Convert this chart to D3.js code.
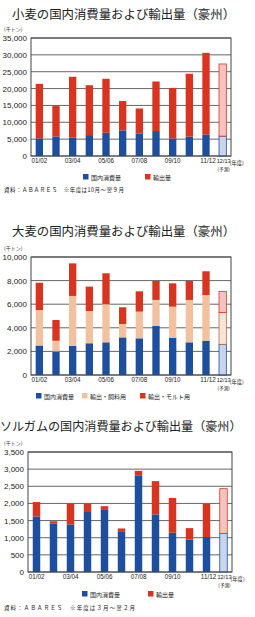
<html>
<head>
<script src="https://d3js.org/d3.v7.min.js"></script>
<style>
body { margin: 0; background: #fff; }
svg { display: block; }
.jp { font-family: "Noto Sans CJK JP", sans-serif; }
.num { font-family: "Liberation Sans Narrow", "Liberation Sans", sans-serif; }
</style>
</head>
<body>
<svg id="chart" width="255" height="617"></svg>
<script>
// years (fiscal)
var years = ["01/02","02/03","03/04","04/05","05/06","06/07","07/08","08/09","09/10","10/11","11/12","12/13"];
var shownYears = ["01/02","03/04","05/06","07/08","09/10","11/12","12/13"];

// wheat (千トン)
var wheatDomestic = [5200, 5800, 5500, 6200, 6900, 7600, 6600, 7400, 5200, 5800, 6400, 5900];
var wheatExport   = [16200, 9100, 18000, 14800, 16000, 8700, 7500, 14700, 15000, 18600, 24200, 21400];

// barley (千トン)
var barleyDomestic = [2500, 2000, 2460, 2690, 2770, 3190, 3110, 4150, 3160, 2770, 2910, 2600];
var barleyFeed     = [3000, 900, 4240, 2730, 3230, 1130, 2260, 2210, 2630, 3590, 3870, 2710];
var barleyMalt     = [2320, 1760, 2760, 2070, 2620, 1420, 1720, 1610, 1980, 1610, 2010, 1780];

// sorghum (千トン)
var sorghumDomestic = [1620, 1410, 1390, 1750, 1830, 1170, 2820, 1680, 1150, 950, 1020, 1120];
var sorghumExport   = [420, 70, 610, 250, 90, 100, 130, 970, 1010, 330, 970, 1310];

var BLUE = "#1d4f9e", RED = "#d8341f", PEACH = "#f2c19f";
var LIGHT = {};
LIGHT[BLUE] = "#c9d5ec"; LIGHT[RED] = "#f7c3c0"; LIGHT[PEACH] = "#fbe4d3";

var svg = d3.select("#chart");

function drawChart(cfg) {
  var g = svg.append("g");
  var x = d3.scaleBand().domain(years).range([cfg.left, cfg.right])
      .paddingInner(0.56).paddingOuter(0.28);
  var y = d3.scaleLinear().domain([0, cfg.max]).range([cfg.bottom, cfg.top]);

  // title
  g.append("text").attr("class", "jp")
    .attr("x", cfg.titleX).attr("y", cfg.titleY)
    .attr("font-size", cfg.titleSize).attr("fill", "#222")
    .text(cfg.title);
  g.append("text").attr("class", "jp")
    .attr("x", 4).attr("y", cfg.top - 7)
    .attr("font-size", 5).attr("fill", "#333")
    .text("(千トン)");

  // grid
  var ticks = d3.range(0, cfg.max + 1, cfg.step);
  g.selectAll(".grid").data(ticks).enter().append("line")
    .attr("x1", cfg.left).attr("x2", cfg.right)
    .attr("y1", function(d) { return y(d); })
    .attr("y2", function(d) { return y(d); })
    .attr("stroke", "#555").attr("stroke-width", 0.9);

  // stacked bars
  var stack = d3.stack().keys(d3.range(cfg.series.length))
      .value(function(d, k) { return d[k]; });
  var rows = years.map(function(yr, i) {
    return cfg.series.map(function(s) { return s.values[i]; });
  });
  var layers = stack(rows);
  layers.forEach(function(layer, k) {
    var col = cfg.series[k].color;
    g.selectAll(".bar" + k).data(layer).enter().append("rect")
      .attr("x", function(d, i) { return x(years[i]); })
      .attr("width", x.bandwidth())
      .attr("y", function(d) { return y(d[1]); })
      .attr("height", function(d) { return y(d[0]) - y(d[1]); })
      .attr("fill", function(d, i) { return i == years.length - 1 ? LIGHT[col] : col; })
      .attr("stroke", function(d, i) { return i == years.length - 1 ? (col == PEACH ? "#b06a4a" : col) : "none"; })
      .attr("stroke-width", 0.8);
  });

  // frame
  g.append("rect")
    .attr("x", cfg.left).attr("y", cfg.top)
    .attr("width", cfg.right - cfg.left).attr("height", cfg.bottom - cfg.top)
    .attr("fill", "none").attr("stroke", "#444").attr("stroke-width", 1);

  // y axis
  var yAxis = g.append("g").attr("class", "num")
    .attr("transform", "translate(" + cfg.left + ",0)")
    .call(d3.axisLeft(y).tickValues(ticks).tickSize(0).tickPadding(4)
      .tickFormat(d3.format(",")));
  yAxis.select(".domain").remove();
  yAxis.selectAll("text").attr("font-size", 8).attr("fill", "#222")
    .attr("font-family", "Liberation Sans Narrow, Liberation Sans, sans-serif");

  // x axis
  var xAxis = g.append("g").attr("class", "num")
    .attr("transform", "translate(0," + cfg.bottom + ")")
    .call(d3.axisBottom(x).tickValues(shownYears).tickSize(0).tickPadding(3));
  xAxis.select(".domain").remove();
  xAxis.selectAll("text").attr("font-size", 6.3).attr("fill", "#222")
    .attr("font-family", "Liberation Sans Narrow, Liberation Sans, sans-serif");
  xAxis.selectAll(".tick").filter(function(d) { return d == "11/12"; })
    .select("text").attr("dx", 2);
  xAxis.selectAll(".tick").filter(function(d) { return d == "12/13"; })
    .select("text").attr("font-size", 5.6).attr("dx", 1);

  var lastX = x("12/13") + x.bandwidth() / 2;
  g.append("text").attr("class", "jp")
    .attr("x", lastX + 1).attr("y", cfg.bottom + 14.5)
    .attr("text-anchor", "middle").attr("font-size", 4.6).attr("fill", "#222")
    .text("(予測)");
  g.append("text").attr("class", "jp")
    .attr("x", lastX + 7).attr("y", cfg.bottom + 9.3)
    .attr("font-size", 5.3).attr("fill", "#222")
    .text("(年度)");

  // legend
  cfg.series.forEach(function(s) {
    g.append("rect").attr("x", s.lx).attr("y", cfg.legendY - 5)
      .attr("width", 5.5).attr("height", 5.5).attr("fill", s.color);
    g.append("text").attr("class", "jp")
      .attr("x", s.lx + 8).attr("y", cfg.legendY + 0.5)
      .attr("font-size", 6).attr("fill", "#222")
      .text(s.name);
  });

  // source
  if (cfg.source) {
    g.append("text").attr("class", "jp")
      .attr("x", 4).attr("y", cfg.sourceY)
      .attr("font-size", 5.5).attr("fill", "#222")
      .attr("textLength", cfg.sourceLen).attr("lengthAdjust", "spacing")
      .text(cfg.source);
  }
}

drawChart({
  title: "小麦の国内消費量および輸出量（豪州）", titleX: 12, titleY: 19, titleSize: 12.4,
  left: 31, right: 231, top: 38, bottom: 156, max: 35000, step: 5000,
  series: [
    {name: "国内消費量", values: wheatDomestic, color: BLUE, lx: 83},
    {name: "輸出量", values: wheatExport, color: RED, lx: 145}
  ],
  legendY: 179, source: "資料：ＡＢＡＲＥＳ　※年度は10月～翌９月", sourceY: 192, sourceLen: 120
});

drawChart({
  title: "大麦の国内消費量および輸出量（豪州）", titleX: 12, titleY: 236, titleSize: 12.4,
  left: 31, right: 231, top: 257, bottom: 375, max: 10000, step: 2000,
  series: [
    {name: "国内消費量", values: barleyDomestic, color: BLUE, lx: 36},
    {name: "輸出・飼料用", values: barleyFeed, color: PEACH, lx: 82},
    {name: "輸出・モルト用", values: barleyMalt, color: RED, lx: 140}
  ],
  legendY: 398
});

drawChart({
  title: "ソルガムの国内消費量および輸出量（豪州）", titleX: 0, titleY: 431, titleSize: 12.1,
  left: 28, right: 232, top: 452, bottom: 572, max: 3500, step: 500,
  series: [
    {name: "国内消費量", values: sorghumDomestic, color: BLUE, lx: 82},
    {name: "輸出量", values: sorghumExport, color: RED, lx: 148}
  ],
  legendY: 596, source: "資料：ＡＢＡＲＥＳ　※年度は３月～翌２月", sourceY: 610, sourceLen: 131
});
</script>
</body>
</html>
